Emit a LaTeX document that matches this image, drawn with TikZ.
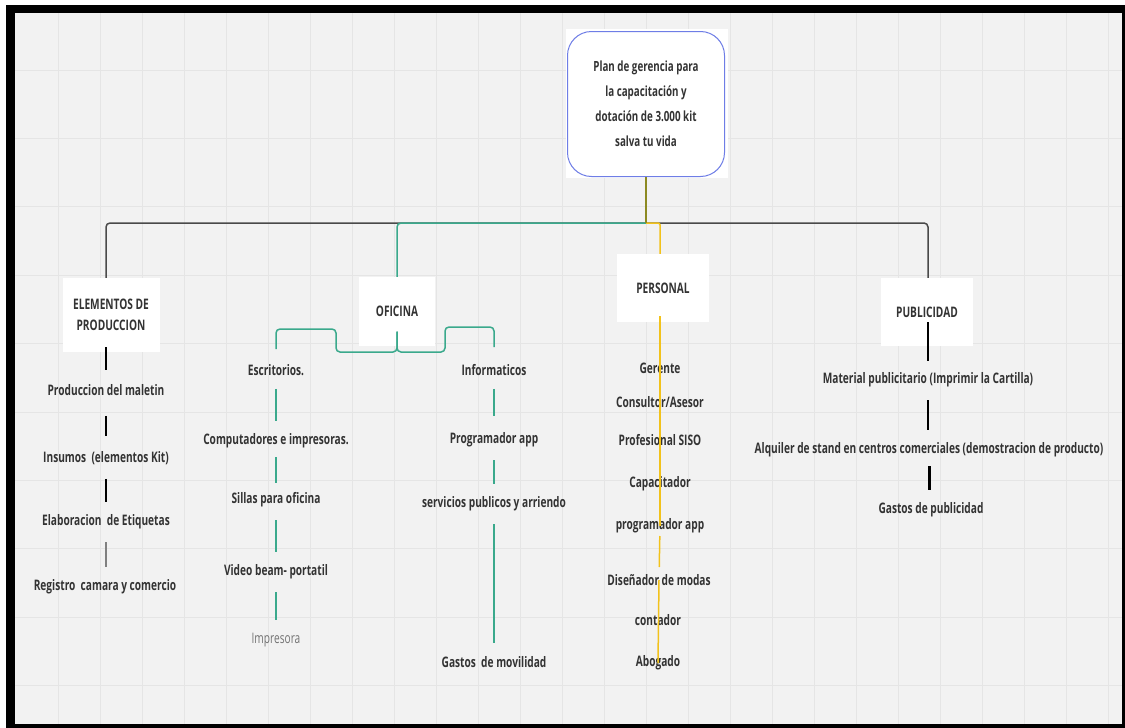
\documentclass[tikz,border=0pt]{standalone}
\usepackage{fontspec}
\setmainfont{Open Sans}[FakeStretch=0.7]
\usepackage{tikz}
\usetikzlibrary{positioning, calc}

\definecolor{tealline}{HTML}{3AA98C}
\definecolor{yellowline}{HTML}{F2C21B}
\definecolor{oliveline}{HTML}{8C8A22}
\definecolor{planblue}{HTML}{6E7DE6}
\definecolor{canvas}{HTML}{F2F2F2}
\definecolor{gridgray}{HTML}{E5E5E5}
\definecolor{txtgray}{HTML}{333333}
\definecolor{darkline}{HTML}{4A4A4A}

\begin{document}
\begin{tikzpicture}[x=1pt, y=-1pt,
    every node/.style={font=\bfseries\fontsize{14.5}{17}\selectfont, text=txtgray, align=center, inner sep=2pt},
    catbox/.style={fill=white},
    seg/.style={shorten <=11pt, shorten >=11pt},
    thickseg/.style={seg, line width=2pt, black}]
        \useasboundingbox (0,0) rectangle (1125,728);

        % Frame and board
        \fill[black] (6,5) rectangle (1125,728);
        \fill[canvas] (15,13) rectangle (1122,724);
        \foreach \gx in {0,...,25}
            \draw[gridgray, line width=0.8pt] ({58+42*\gx},13) -- ({58+42*\gx},724);
        \foreach \gy in {0,...,9}
            \draw[gridgray, line width=0.8pt] (15,{70+68.4*\gy}) -- (1122,{70+68.4*\gy});

        % Root
        \fill[white] (566,29) rectangle (728,178);
        \node[draw=planblue, line width=1pt, fill=white, rounded corners=24pt,
              minimum width=157pt, minimum height=145pt, font=\bfseries\fontsize{14}{16}\selectfont] (plan) at (646,104)
              {Plan de gerencia para\\[9pt]la capacitación y\\[9pt]dotación de 3.000 kit\\[9pt]salva tu vida};
        \coordinate (hub) at (646,223);

        % Trunk
        \draw[darkline, line width=1.5pt, rounded corners=4pt] (hub) -| (106,278);
        \draw[tealline, line width=1.5pt, rounded corners=4pt] (hub) -| (397,277);
        \draw[darkline, line width=1.5pt, rounded corners=4pt] (hub) -| (928,279);
        \draw[yellowline, line width=1.5pt, rounded corners=2pt] (hub) -| (660,282);
        \draw[oliveline, line width=1.5pt] (plan.south) -- (hub);

        % Categories
        \node[catbox, minimum width=97pt, minimum height=74pt] (elem) at (111,315) {ELEMENTOS DE\\[4pt]PRODUCCION};
        \node[catbox, minimum width=76pt, minimum height=69pt] (ofi) at (397,311) {OFICINA};
        \node[catbox, minimum width=92pt, minimum height=68pt] (pers) at (663,288) {PERSONAL};
        \node[catbox, minimum width=92pt, minimum height=68pt] (pub) at (927,312) {PUBLICIDAD};

        % Elementos de produccion
        \node (prod) at (106,390) {Produccion del maletin};
        \node (ins) at (106,458) {Insumos\ \ (elementos Kit)};
        \node (elab) at (106,522) {Elaboracion\ \ de Etiquetas};
        \node (reg) at (105,587) {Registro\ \ camara y comercio};

        \draw[line width=1.5pt, black, shorten <=-5pt, shorten >=12pt] (elem.south -| prod.north) -- (prod.north);
        \draw[thickseg, shorten <=18pt, shorten >=13pt] (prod.south) -- (ins.north);
        \draw[thickseg, shorten <=12pt] (ins.south) -- (elab.north);
        \draw[seg, line width=1.5pt, gray] (elab.south) -- (elab.south |- reg.north);

        % Oficina
        \node (esc) at (276,370) {Escritorios.};
        \node (comp) at (276,441) {Computadores e impresoras.};
        \node (sil) at (276,500) {Sillas para oficina};
        \node (vid) at (276,572) {Video beam- portatil};
        \node[font=\mdseries\fontsize{14.5}{17}\selectfont, text=black!55] (imp) at (276,640) {Impresora};

        \node (inf) at (494,370) {Informaticos};
        \node (prog) at (494,440) {Programador app};
        \node (serv) at (494,504) {servicios publicos y arriendo};
        \node (gmov) at (494,662) {Gastos\ \ de movilidad};

        \draw[tealline, line width=1.5pt, rounded corners=4pt]
            ([yshift=14pt]ofi.south) -- (397,352) -- (336,352) -- (336,329) -- (276,329) -- (276,349);
        \draw[tealline, line width=1.5pt, rounded corners=4pt]
            ([yshift=14pt]ofi.south) -- (397,352) -- (445,352) -- (445,327) -- (494,327) -- (494,347);

        \draw[seg, tealline, line width=1.5pt] (esc.south) -- (comp.north);
        \draw[seg, tealline, line width=1.5pt, shorten <=7pt, shorten >=8pt] (comp.south) -- (sil.north);
        \draw[seg, tealline, line width=1.5pt] (sil.south) -- (vid.north);
        \draw[seg, tealline, line width=1.5pt] (vid.south) -- (imp.north);

        \draw[seg, tealline, line width=1.5pt, shorten >=15pt] (inf.south) -- (prog.north);
        \draw[seg, tealline, line width=1.5pt] (prog.south) -- (serv.north);
        \draw[seg, tealline, line width=1.5pt] (serv.south) -- (gmov.north);

        % Personal
        \node (ger) at (660,368) {Gerente};
        \node (cons) at (660,402) {Consultor/Asesor};
        \node (siso) at (660,440) {Profesional SISO};
        \node (capa) at (660,484) {Capacitador};
        \node (progp) at (660,526) {programador app};
        \node (dis) at (659,580) {Diseñador de modas};
        \node (cont) at (658,620) {contador};
        \node (abo) at (658,663) {Abogado};

        \draw[yellowline, line width=1.5pt] ([yshift=6pt]pers.south -| ger.center) -- (ger.center) -- (capa.center) -- (progp.center);
        \draw[yellowline, line width=1.5pt, shorten <=10pt, shorten >=13pt] (progp.center) -- (dis.center);
        \draw[yellowline, line width=1.5pt] (dis.center) -- (abo.center);

        % Publicidad
        \node (mat) at (928,380) {Material publicitario (Imprimir la Cartilla)};
        \node (alq) at (929,450) {Alquiler de stand en centros comerciales (demostracion de producto)};
        \node (gpub) at (931,510) {Gastos de publicidad};

        \draw[line width=1.5pt, black, shorten <=-24pt, shorten >=10pt] (pub.south -| mat.north) -- (mat.north);
        \draw[thickseg, line width=2.5pt] (mat.south) -- (mat.south |- alq.north);
        \draw[thickseg, line width=3pt, shorten <=7pt] (alq.south) -- (alq.south |- gpub.north);
\end{tikzpicture}
\end{document}
